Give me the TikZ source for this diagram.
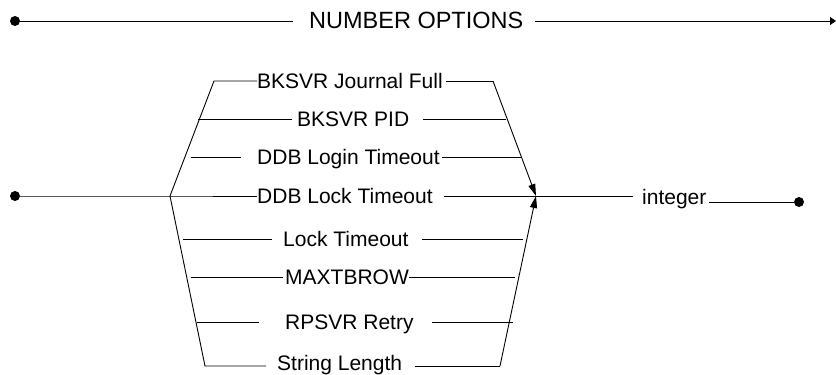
\documentclass[tikz,border=0pt]{standalone}
\usepackage{fontspec}
\setmainfont{Liberation Sans}
\usetikzlibrary{arrows.meta}
\begin{document}
\begin{tikzpicture}[x=1pt,y=-1pt,
  conn/.style={draw=black, line width=0.9pt},
  arr/.style={conn, -{Triangle[length=12pt,width=7pt]}},
  enddot/.style={circle, fill=black, minimum size=10pt, inner sep=0pt},
  item/.style={anchor=base west, inner sep=0pt, font=\fontsize{21}{25}\selectfont},
  ttl/.style={anchor=base west, inner sep=0pt, font=\fontsize{23.5}{28}\selectfont}]
\useasboundingbox (0,0) rectangle (836,375);
% title line
\node[enddot] (t0) at (15,21) {};
\node[ttl] (title) at (309,28) {NUMBER OPTIONS};
\coordinate (t1) at (293,21);
\coordinate (t2) at (535,21);
\coordinate (t3) at (836,21);
\draw[conn] (t0) -- (t1);
\draw[conn, -{Triangle[length=6pt,width=8pt]}] (t2) -- (t3);
% main start
\node[enddot] (m0) at (15,196) {};
\coordinate (f) at (170,196);
\coordinate (lt) at (214,81);
\coordinate (lb) at (205,366);
\coordinate (rt) at (493,81);
\coordinate (rb) at (500,366);
\coordinate (jn) at (536,196);
% items
\node[item] (j) at (257,88) {BKSVR Journal Full};
\node[item] (p) at (297,126) {BKSVR PID};
\node[item] (dl) at (257,164) {DDB Login Timeout};
\node[item] (dk) at (257,203) {DDB Lock Timeout};
\node[item] (lk) at (283,246) {Lock Timeout};
\node[item] (mx) at (285,284) {MAXTBROW};
\node[item] (rp) at (285,329) {RPSVR Retry};
\node[item] (sl) at (277,370.5) {String Length};
\node[item] (ig) at (642,204.5) {integer};
\node[enddot] (e0) at (799,202) {};
% left fork
\draw[conn] (m0) -- (f) -- (dk.west |- f);
\draw[conn] (f) -- (lt) -- (j.west |- lt);
\draw[conn] (f) -- (lb) -- (266,366);
\coordinate (pa) at (198,119); \coordinate (pb) at (292,119);
\coordinate (pc) at (423,119); \coordinate (pd) at (506,119);
\draw[conn] (pa) -- (pb); \draw[conn] (pc) -- (pd);
\coordinate (la) at (190.7,157); \coordinate (lbb) at (241,157);
\coordinate (lc) at (442,157); \coordinate (ld) at (521,157);
\draw[conn] (la) -- (lbb); \draw[conn] (lc) -- (ld);
\coordinate (ka) at (183,239); \coordinate (kb) at (272,239);
\coordinate (kc) at (422,239); \coordinate (kd) at (523,239);
\draw[conn] (ka) -- (kb); \draw[conn] (kc) -- (kd);
\coordinate (ma) at (190.7,277); \coordinate (mb) at (283,277);
\coordinate (mc) at (409,277); \coordinate (md) at (515,277);
\draw[conn] (ma) -- (mb); \draw[conn] (mc) -- (md);
\coordinate (ra) at (196.7,322); \coordinate (rbb) at (259,322);
\coordinate (rc) at (432,322); \coordinate (rd) at (513,322);
\draw[conn] (ra) -- (rbb); \draw[conn] (rc) -- (rd);
% right join
\coordinate (ja) at (446,81);
\draw[conn] (ja) -- (rt);
\draw[arr] (rt) -- (jn);
\coordinate (sa) at (415,366);
\draw[conn] (sa) -- (rb);
\draw[arr] (rb) -- (jn);
\coordinate (da) at (444,196);
\coordinate (db) at (633,196);
\draw[conn] (da) -- (db);
\coordinate (ia) at (709,202);
\draw[conn] (ia) -- (e0);
\end{tikzpicture}
\end{document}
